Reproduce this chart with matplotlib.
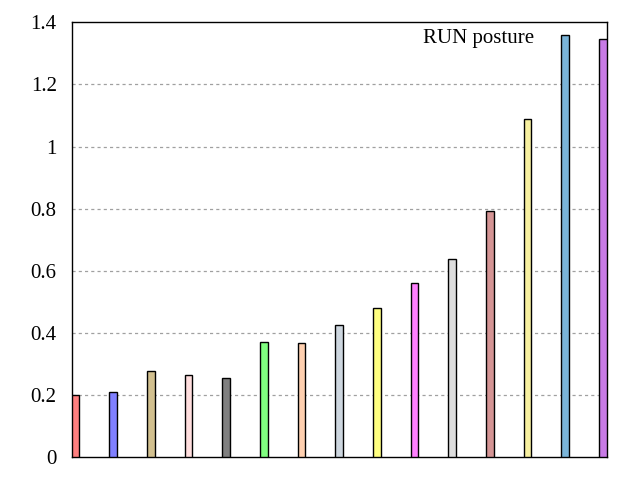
import matplotlib
matplotlib.use("Agg")
import matplotlib.pyplot as plt
import numpy as np

values = [0.200, 0.210, 0.277, 0.265, 0.255, 0.371, 0.368, 0.426, 0.481,
          0.561, 0.639, 0.794, 1.089, 1.360, 1.347]
colors = ["#ff8080", "#8080ff", "#d2c08f", "#ffdede", "#808080", "#80ff80",
          "#ffd0b0", "#cdd6df", "#ffff80", "#ff80ff", "#dddddd", "#d49494",
          "#f7f0a0", "#7ab4d8", "#c87be6"]
yticks = [0, 0.2, 0.4, 0.6, 0.8, 1, 1.2, 1.4]
ytick_labels = ["0", "0.2", "0.4", "0.6", "0.8", "1", "1.2", "1.4"]
title = "RUN posture"

plt.rcParams['font.family'] = ['Liberation Serif', 'DejaVu Serif']

fig = plt.figure(figsize=(6.4, 4.8), dpi=100)
ax = fig.add_axes([71.7/640, 1 - 457.3/480, (606.7-71.7)/640, (457.3-22.3)/480])

x = np.arange(len(values))
w = 0.2
ax.bar(x, values, width=w, color=colors, edgecolor="black", linewidth=1.0, zorder=3)
ax.set_xlim(-w/2, len(values) - 1 + w/2)
ax.set_ylim(0, 1.4)
ax.set_yticks(yticks)
ax.set_yticklabels(ytick_labels, fontsize=15)
ax.set_xticks([])
ax.tick_params(axis='y', length=0, pad=10.8)
for t in yticks[1:-1]:
    ax.axhline(t, color="#a0a0a0", linestyle=(0, (2.5, 2.5)), linewidth=0.9, zorder=1)
for s in ax.spines.values():
    s.set_linewidth(1.0)
ax.text(534.3/640, 1 - 43.3/480, title, transform=fig.transFigure, ha="right", va="baseline", fontsize=15)

fig.savefig("out.png", dpi=100)
